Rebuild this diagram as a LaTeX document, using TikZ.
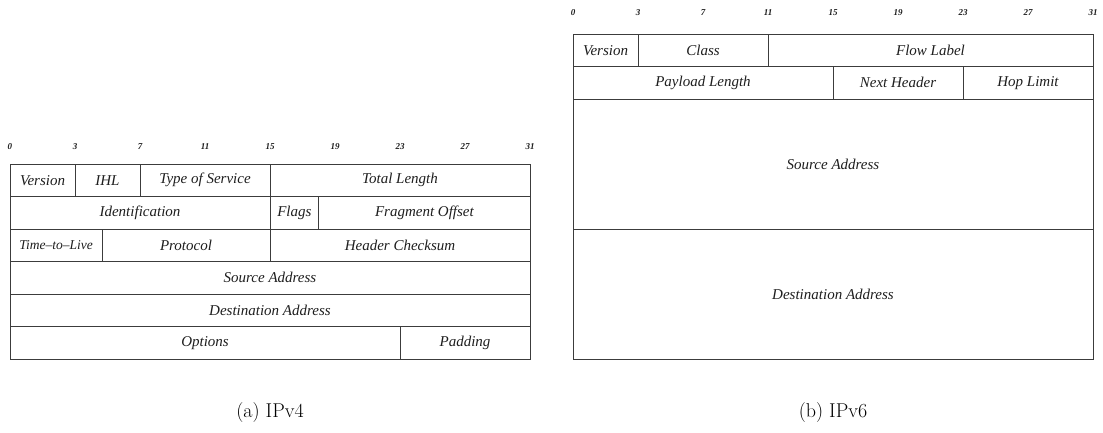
\documentclass[tikz,border=0pt]{standalone}
\usepackage{fontspec}
\usepackage{xcolor}
\usepackage{tikz}
\usetikzlibrary{positioning}
\newfontfamily\timesfont{Liberation Serif}[Ligatures=TeX]
\definecolor{pktline}{HTML}{3C3C3C}
\definecolor{pkttext}{HTML}{1E1E1E}
\tikzset{
    field/.style={draw=pktline, line width=0.8pt, anchor=north west, inner sep=0pt, outer sep=0pt,
        minimum height=32.5pt, text=pkttext, font=\timesfont\itshape\fontsize{15}{17}\selectfont},
    bitnum/.style={text=pkttext, inner sep=0pt, font=\timesfont\itshape\bfseries\fontsize{9}{11}\selectfont},
    subcap/.style={text=black, inner sep=0pt, font=\fontsize{20}{24}\selectfont}
}

\begin{document}
\begin{tikzpicture}[x=1pt, y=-1pt]
    \useasboundingbox (0,0) rectangle (1103,432);

    % IPv4 - bit numbers
    \foreach \b [count=\i from 0] in {0,3,7,11,15,19,23,27,31}
        \node[bitnum] (vfourbit\i) at (10+\i*65, 147) {\b};

    % IPv4 - header rows
    \node[field, minimum width=65pt] (version4) at (10,164) {Version};
    \node[field, minimum width=65pt, right=0pt of version4] (ihl) {IHL};
    \node[field, minimum width=130pt, right=0pt of ihl] (tos) {Type of Service};
    \node[field, minimum width=260pt, right=0pt of tos] (totallen) {Total Length};

    \node[field, minimum width=260pt] (ident) at (10,196.5) {Identification};
    \node[field, minimum width=48.75pt, right=0pt of ident] (flags) {Flags};
    \node[field, minimum width=211.25pt, right=0pt of flags] (fragoff) {Fragment Offset};

    \node[field, minimum width=92pt, font=\timesfont\itshape\fontsize{13.5}{15}\selectfont] (ttl) at (10,229) {Time--to--Live};
    \node[field, minimum width=168pt, right=0pt of ttl] (protocol) {Protocol};
    \node[field, minimum width=260pt, right=0pt of protocol] (checksum) {Header Checksum};

    \node[field, minimum width=520pt] (src4) at (10,261.5) {Source Address};
    \node[field, minimum width=520pt, below=0pt of src4] (dst4) {Destination Address};

    \node[field, minimum width=390pt] (options) at (10,326.5) {Options};
    \node[field, minimum width=130pt, right=0pt of options] (padding) {Padding};

    % IPv6 - bit numbers
    \foreach \b [count=\i from 0] in {0,3,7,11,15,19,23,27,31}
        \node[bitnum] (vsixbit\i) at (573+\i*65, 13) {\b};

    % IPv6 - header rows
    \node[field, minimum width=65pt] (version6) at (573,34) {Version};
    \node[field, minimum width=130pt, right=0pt of version6] (class) {Class};
    \node[field, minimum width=325pt, right=0pt of class] (flowlabel) {Flow Label};

    \node[field, minimum width=260pt] (payload) at (573,66.5) {Payload Length};
    \node[field, minimum width=130pt, right=0pt of payload] (nexthdr) {Next Header};
    \node[field, minimum width=130pt, right=0pt of nexthdr] (hoplimit) {Hop Limit};

    \node[field, minimum width=520pt, minimum height=130pt] (src6) at (573,99) {Source Address};
    \node[field, minimum width=520pt, minimum height=130pt, below=0pt of src6] (dst6) {Destination Address};

    % Captions
    \node[subcap] (capa) at (270,413) {(a) IPv4};
    \node[subcap] (capb) at (833,413) {(b) IPv6};
\end{tikzpicture}
\end{document}
